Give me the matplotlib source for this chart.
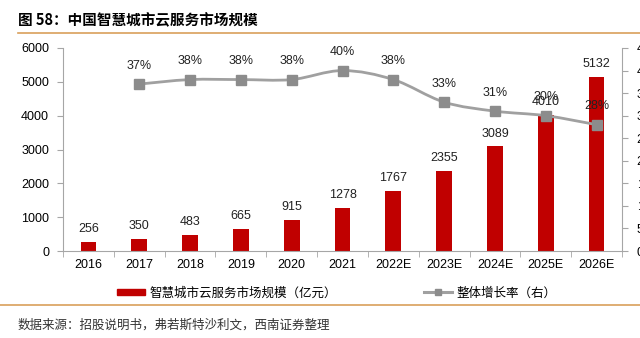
import numpy as np
import matplotlib.pyplot as plt
from matplotlib.path import Path
from matplotlib.patches import PathPatch
from matplotlib.lines import Line2D
from matplotlib.patches import Patch

plt.rcParams['font.family'] = ['Liberation Sans', 'Noto Sans CJK SC', 'DejaVu Sans']

years = ['2016', '2017', '2018', '2019', '2020', '2021', '2022E', '2023E', '2024E', '2025E', '2026E']
market = [256, 350, 483, 665, 915, 1278, 1767, 2355, 3089, 4010, 5132]
growth = [None, 37, 38, 38, 38, 40, 38, 33, 31, 30, 28]

red = '#C00000'
grey = '#A0A0A0'
axis_c = '#A6A6A6'
orange = '#D9A05B'

fig = plt.figure(figsize=(6.4, 3.38), dpi=100)
ax = fig.add_axes([63/640, 87/338, 559/640, 203/338])
x = np.arange(len(years))
ax.bar(x, market, width=0.31, color=red, zorder=2)
for xi, v in zip(x, market):
    ax.annotate(str(v), (xi, v), xytext=(0, 5), textcoords='offset points',
                ha='center', va='bottom', fontsize=9, color='#222222')
ax.set_xlim(-0.5, len(years) - 0.5)
ax.set_ylim(0, 6000)
ax.set_yticks(range(0, 6001, 1000))
ax.set_xticks(x)
ax.set_xticklabels(years)
ax.set_xticks(np.arange(-0.5, len(years), 1), minor=True)
ax.tick_params(axis='x', which='major', length=0, pad=6, labelsize=9)
ax.tick_params(axis='x', which='minor', length=4, color=axis_c)
ax.tick_params(axis='y', length=4, color=axis_c, labelsize=9, pad=6)
for s in ['top', 'right']:
    ax.spines[s].set_visible(False)
for s in ['left', 'bottom']:
    ax.spines[s].set_color(axis_c)

ax2 = ax.twinx()
ax2.set_ylim(0, 45)
ax2.set_yticks(range(0, 46, 5))
ax2.set_yticklabels([f'{t}%' for t in range(0, 46, 5)])
ax2.tick_params(axis='y', length=4, color=axis_c, labelsize=9, pad=6.5)
for s in ['top', 'left', 'bottom']:
    ax2.spines[s].set_visible(False)
ax2.spines['right'].set_color(axis_c)

gx = [xi for xi, g in zip(x, growth) if g is not None]
gy = [g for g in growth if g is not None]
# smooth curve through the points (Catmull-Rom as cubic Bezier)
pts = np.column_stack([gx, gy]).astype(float)
verts = [pts[0]]
codes = [Path.MOVETO]
for i in range(len(pts) - 1):
    p0 = pts[i - 1] if i > 0 else pts[i]
    p1, p2 = pts[i], pts[i + 1]
    p3 = pts[i + 2] if i + 2 < len(pts) else pts[i + 1]
    c1 = p1 + (p2 - p0) / 6
    c2 = p2 - (p3 - p1) / 6
    verts += [c1, c2, p2]
    codes += [Path.CURVE4] * 3
ax2.add_patch(PathPatch(Path(verts, codes), fill=False, edgecolor=grey, lw=2.0, zorder=3))
ax2.plot(gx, gy, ls='none', marker='s', ms=6.5, color='#8C8C8C', zorder=4)
for xi, g in zip(gx, gy):
    ax2.annotate(f'{g}%', (xi, g), xytext=(0, 9), textcoords='offset points',
                 ha='center', va='bottom', fontsize=9, color='#222222')

# title, rules, legend, source
fig.text(18/640, 1 - 20/338, '图 58：中国智慧城市云服务市场规模', fontsize=10.5,
         fontweight='bold', va='center', ha='left', family=['Noto Sans CJK SC', 'DejaVu Sans'])
fig.add_artist(Line2D([18/640, 1], [1 - 33/338] * 2, color=orange, lw=1.2))
fig.add_artist(Line2D([0, 1], [1 - 305/338] * 2, color=orange, lw=1.2))

handles = [Patch(color=red), Line2D([], [], color=grey, lw=2.2, marker='s', ms=5, markerfacecolor='#8C8C8C', markeredgecolor='#8C8C8C')]
labels = ['智慧城市云服务市场规模（亿元）', '整体增长率（右）']
fig.legend(handles[:1], labels[:1], loc='center left', bbox_to_anchor=(106/640, 1 - 293/338),
           frameon=False, handlelength=2.2, handleheight=0.45, handletextpad=0.4,
           prop={'family': ['Noto Sans CJK SC'], 'size': 9})
fig.legend(handles[1:], labels[1:], loc='center left', bbox_to_anchor=(413/640, 1 - 293/338),
           frameon=False, handlelength=2.2, handletextpad=0.4,
           prop={'family': ['Noto Sans CJK SC'], 'size': 9})

fig.text(18/640, 1 - 325/338, '数据来源：招股说明书，弗若斯特沙利文，西南证券整理', fontsize=9,
         style='italic', color='#333333', va='center', ha='left',
         family=['Noto Sans CJK SC', 'DejaVu Sans'])

fig.savefig('out.png', dpi=100)
